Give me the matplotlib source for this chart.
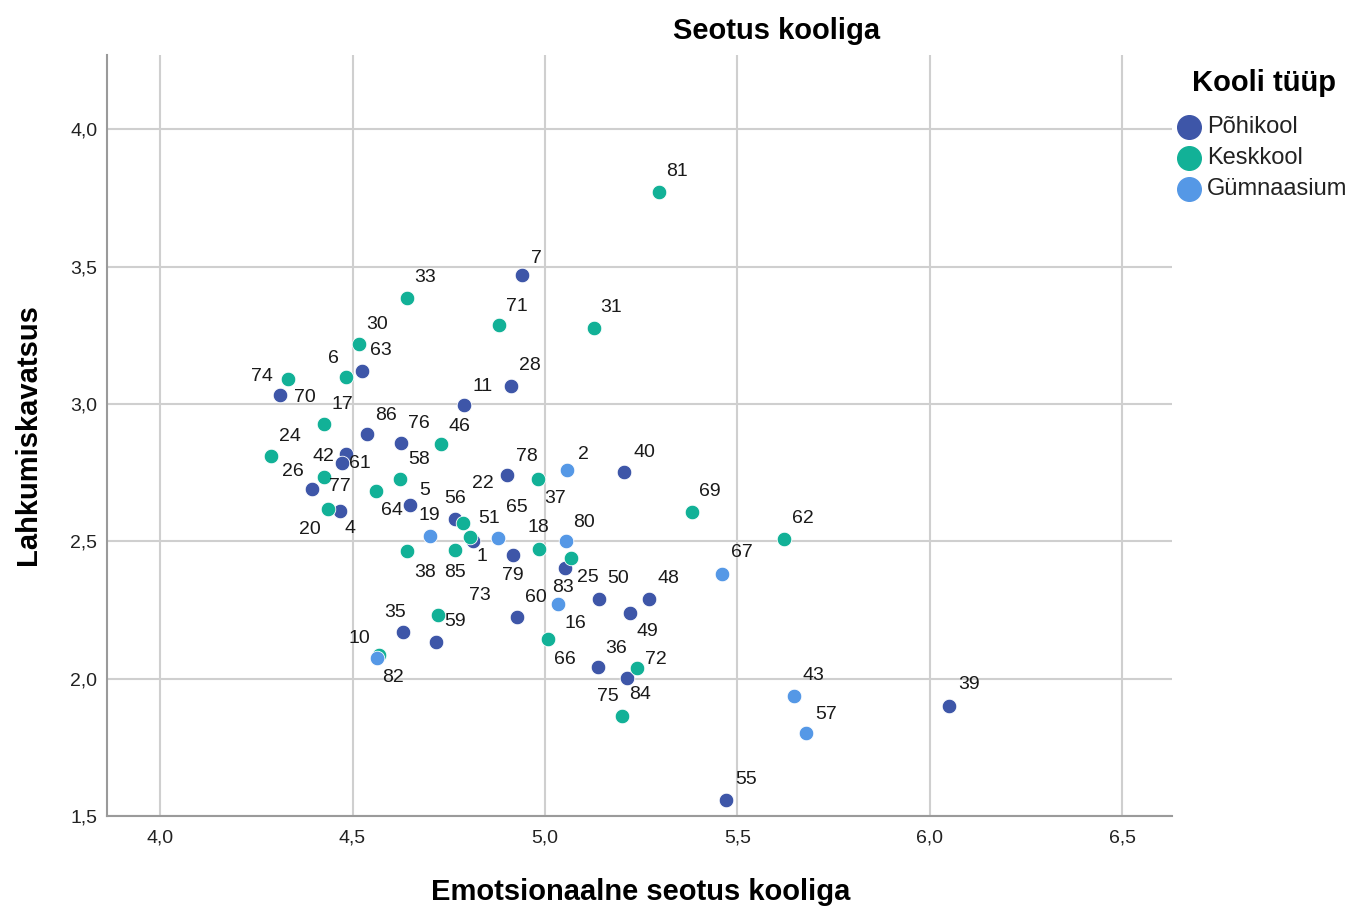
import matplotlib
matplotlib.use('Agg')
import matplotlib.pyplot as plt
from matplotlib.ticker import FuncFormatter, MultipleLocator

plt.rcParams['font.family'] = ['Liberation Sans', 'DejaVu Sans']

# case id, school type, x = emotional attachment, y = leaving intention
case_ids = [81, 7, 33, 71, 31, 30, 63, 6, 74, 70,
            28, 11, 17, 86, 76, 46, 24, 42, 61, 77,
            26, 20, 4, 64, 5, 58, 78, 37, 2, 40,
            19, 56, 22, 65, 1, 51, 79, 18, 80, 66,
            25, 38, 85, 73, 59, 35, 82, 10, 60, 83,
            16, 50, 49, 48, 36, 84, 72, 75, 69, 62,
            67, 43, 57, 39, 55]
school_type = ['K', 'P', 'K', 'K', 'K', 'K', 'P', 'K', 'K', 'P',
               'P', 'P', 'K', 'P', 'P', 'K', 'K', 'P', 'P', 'K',
               'P', 'K', 'P', 'K', 'P', 'K', 'P', 'K', 'G', 'P',
               'G', 'P', 'K', 'K', 'P', 'G', 'P', 'K', 'G', 'K',
               'P', 'K', 'K', 'K', 'P', 'P', 'G', 'K', 'P', 'G',
               'K', 'P', 'P', 'P', 'P', 'P', 'K', 'K', 'K', 'K',
               'G', 'G', 'G', 'P', 'P']
emotional = [5.296, 4.940, 4.642, 4.881, 5.127, 4.517, 4.525, 4.483, 4.332, 4.312,
             4.912, 4.790, 4.426, 4.538, 4.626, 4.730, 4.288, 4.483, 4.473, 4.426,
             4.395, 4.436, 4.468, 4.561, 4.649, 4.623, 4.901, 4.982, 5.057, 5.205,
             4.701, 4.766, 4.787, 4.805, 4.813, 4.878, 4.917, 4.984, 5.055, 5.068,
             5.052, 4.642, 4.766, 4.722, 4.717, 4.631, 4.564, 4.569, 4.927, 5.034,
             5.008, 5.140, 5.221, 5.270, 5.138, 5.213, 5.239, 5.200, 5.382, 5.621,
             5.460, 5.647, 5.678, 6.049, 5.470]
leaving = [3.772, 3.470, 3.386, 3.288, 3.277, 3.219, 3.121, 3.099, 3.091, 3.033,
           3.066, 2.997, 2.928, 2.891, 2.858, 2.855, 2.811, 2.818, 2.786, 2.735,
           2.691, 2.618, 2.611, 2.684, 2.633, 2.727, 2.742, 2.727, 2.760, 2.753,
           2.520, 2.582, 2.567, 2.516, 2.501, 2.512, 2.450, 2.472, 2.501, 2.440,
           2.403, 2.465, 2.469, 2.232, 2.134, 2.170, 2.075, 2.086, 2.225, 2.272,
           2.145, 2.290, 2.239, 2.290, 2.043, 2.003, 2.039, 1.864, 2.607, 2.509,
           2.381, 1.937, 1.802, 1.901, 1.558]

type_keys = ['P', 'K', 'G']
type_names = ['Põhikool', 'Keskkool', 'Gümnaasium']
type_colors = ['#3E56A8', '#12B197', '#5598E6']

# label placement (pixels from the point, +y down) - layout only
lab_dx = [18, 15, 18, 18, 17, 18, 19, -13, -26, 25,
          19, 18, 18, 19, 18, 18, 19, -23, 18, 16,
          -19, -18, 10, 16, 15, 19, 20, 17, 16, 21,
          -1, 0, 20, 47, 9, -9, 0, 0, 18, -6,
          23, 18, 0, 42, 19, -8, 16, -20, 19, 5,
          27, 19, 17, 20, 18, 13, 19, -14, 18, 19,
          20, 19, 20, 20, 20]
lab_dy = [-20, -16, -20, -18, -20, -19, -20, -18, -2, 3,
          -20, -18, -19, -18, -19, -17, -19, 3, 1, 10,
          -17, 21, 18, 20, -14, -19, -18, 20, -15, -19,
          -20, -20, -39, -29, 16, -19, 20, -21, -18, 102,
          10, 22, 23, -19, -20, -19, 19, -17, -19, -16,
          -15, -20, 19, -20, -18, 17, -8, -19, -20, -20,
          -21, -20, -19, -21, -21]

W, H = 1356, 909
fig = plt.figure(figsize=(W / 100, H / 100), dpi=100)
ax = fig.add_axes([107 / W, 1 - 816 / H, (1172 - 107) / W, (816 - 55) / H])

for key, color in zip(type_keys, type_colors):
    xs = [x for x, t in zip(emotional, school_type) if t == key]
    ys = [y for y, t in zip(leaving, school_type) if t == key]
    ax.scatter(xs, ys, s=110, color=color, edgecolors='white', linewidths=0.6, zorder=3)

px = 0.72
for cid, x, y, dx, dy in zip(case_ids, emotional, leaving, lab_dx, lab_dy):
    ax.annotate(str(cid), (x, y), xytext=(dx * px, -dy * px), textcoords='offset points',
                ha='center', va='center', fontsize=14, color='#1A1A1A', zorder=4)

ax.set_xlim(3.862, 6.629)
ax.set_ylim(1.5, 4.27)
ax.xaxis.set_major_locator(MultipleLocator(0.5))
ax.yaxis.set_major_locator(MultipleLocator(0.5))
comma = FuncFormatter(lambda v, p: f'{v:.1f}'.replace('.', ','))
ax.xaxis.set_major_formatter(comma)
ax.yaxis.set_major_formatter(comma)
ax.tick_params(length=0, labelsize=14, colors='#222222')
ax.tick_params(axis='x', pad=10)
ax.tick_params(axis='y', pad=7)

ax.grid(True, color='#CFCFCF', linewidth=1.5, zorder=0)
ax.set_axisbelow(True)
for side in ['top', 'right']:
    ax.spines[side].set_visible(False)
for side in ['left', 'bottom']:
    ax.spines[side].set_color('#9A9A9A')
    ax.spines[side].set_linewidth(1.5)

fig.text(641 / W, 1 - 892 / H, 'Emotsionaalne seotus kooliga', fontsize=21,
         fontweight='bold', ha='center', va='center')
fig.text(28 / W, 1 - 435 / H, 'Lahkumiskavatsus', fontsize=21, fontweight='bold',
         ha='center', va='center', rotation=90)
fig.text(777 / W, 1 - 31 / H, 'Seotus kooliga', fontsize=21, fontweight='bold',
         ha='center', va='center')

# legend, drawn by hand so its spacing follows the reference
fig.text(1264 / W, 1 - 83 / H, 'Kooli tüüp', fontsize=21, fontweight='bold',
         ha='center', va='center')
for i, (name, color) in enumerate(zip(type_names, type_colors)):
    yy = 1 - (127 + 31 * i) / H
    fig.add_artist(plt.Line2D([1189 / W], [yy], marker='o', markersize=17, color=color,
                              linestyle='', transform=fig.transFigure))
    fig.text(1207 / W, yy, name, fontsize=17, ha='left', va='center', color='#222222')

fig.savefig('out.png', dpi=100)
